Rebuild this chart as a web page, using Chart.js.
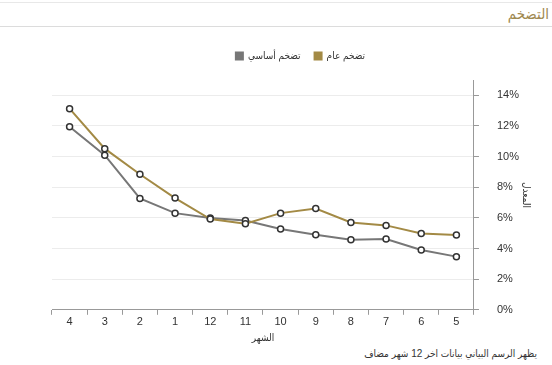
<!DOCTYPE html>
<html lang="ar">
<head>
<meta charset="utf-8">
<script src="https://cdn.jsdelivr.net/npm/chart.js@4"></script>
<style>
  html, body { margin: 0; padding: 0; background: #fff; }
  body { width: 552px; height: 365px; position: relative; overflow: hidden; font-family: "Liberation Sans", "DejaVu Sans Condensed", sans-serif; }
  .header { position: absolute; left: 0; right: 0; top: 2px; height: 23px; border-top: 1px solid #e8e8e8; border-bottom: 1px solid #dcdcdc; }
  .header span { position: absolute; right: 3px; top: 2px; font-size: 15px; color: #a0894f; direction: rtl; }
  .chart-box { position: absolute; left: 0; top: 30px; width: 552px; height: 318px; }
  .note { position: absolute; right: 15px; top: 348px; font-size: 10px; color: #333; direction: rtl; }
</style>
</head>
<body>
<div class="header"><span>التضخم</span></div>
<div class="chart-box"><canvas id="inflationChart"></canvas></div>
<div class="note">يظهر الرسم البياني بيانات اخر 12 شهر مضاف</div>

<script>
// الأشهر كما تظهر من اليسار إلى اليمين
const months = ['4', '3', '2', '1', '12', '11', '10', '9', '8', '7', '6', '5'];
const generalInflation = [13.13, 10.52, 8.85, 7.29, 5.92, 5.62, 6.31, 6.61, 5.70, 5.51, 4.98, 4.88];
const coreInflation = [11.95, 10.09, 7.27, 6.31, 5.99, 5.83, 5.27, 4.90, 4.57, 4.62, 3.90, 3.47];
const yTicks = [0, 2, 4, 6, 8, 10, 12, 14];

const goldColor = '#a38a45';
const grayColor = '#777777';
const fontFamily = '"Liberation Sans", "DejaVu Sans Condensed", sans-serif';

function makeDataset(label, data, color) {
  return {
    label: label,
    data: data,
    borderColor: color,
    backgroundColor: color,
    borderWidth: 2,
    pointRadius: 3,
    pointHoverRadius: 3,
    pointBorderWidth: 1.5,
    pointBorderColor: '#333',
    pointBackgroundColor: '#fff',
    tension: 0
  };
}

// مسافة إضافية تحت وسيلة الإيضاح
const legendGap = {
  id: 'legendGap',
  beforeInit(chart) {
    const fit = chart.legend.fit;
    chart.legend.fit = function () {
      fit.bind(chart.legend)();
      this.height += 9;
    };
  }
};

new Chart(document.getElementById('inflationChart'), {
  type: 'line',
  data: {
    labels: months,
    datasets: [
      makeDataset('تضخم عام', generalInflation, goldColor),
      makeDataset('تضخم أساسي', coreInflation, grayColor)
    ]
  },
  plugins: [legendGap],
  options: {
    responsive: true,
    maintainAspectRatio: false,
    animation: false,
    layout: { padding: { left: 52, right: 3, top: 7, bottom: 0 } },
    plugins: {
      tooltip: { enabled: false },
      legend: {
        reverse: true,
        labels: {
          boxWidth: 7,
          boxHeight: 7,
          padding: 14,
          color: '#333',
          font: { size: 10, family: fontFamily }
        }
      }
    },
    scales: {
      x: {
        offset: true,
        grid: { offset: true, drawOnChartArea: false, tickLength: 5, color: '#999' },
        border: { color: '#999' },
        ticks: { color: '#333', font: { size: 11, family: fontFamily }, padding: 1 },
        title: { display: true, text: 'الشهر', color: '#333', font: { size: 10, family: fontFamily }, padding: { top: 2 } }
      },
      y: {
        position: 'right',
        min: 0,
        max: 15,
        afterBuildTicks: axis => { axis.ticks = yTicks.map(v => ({ value: v })); },
        grid: { color: '#ececec', tickLength: 5, tickColor: '#999' },
        border: { color: '#999' },
        ticks: {
          color: '#333',
          font: { size: 11, family: fontFamily },
          padding: 18,
          callback: v => v + '%'
        },
        title: { display: true, text: 'المعدل', color: '#333', font: { size: 10, family: fontFamily }, padding: { top: 17, bottom: -17 } }
      }
    }
  }
});
</script>
</body>
</html>
